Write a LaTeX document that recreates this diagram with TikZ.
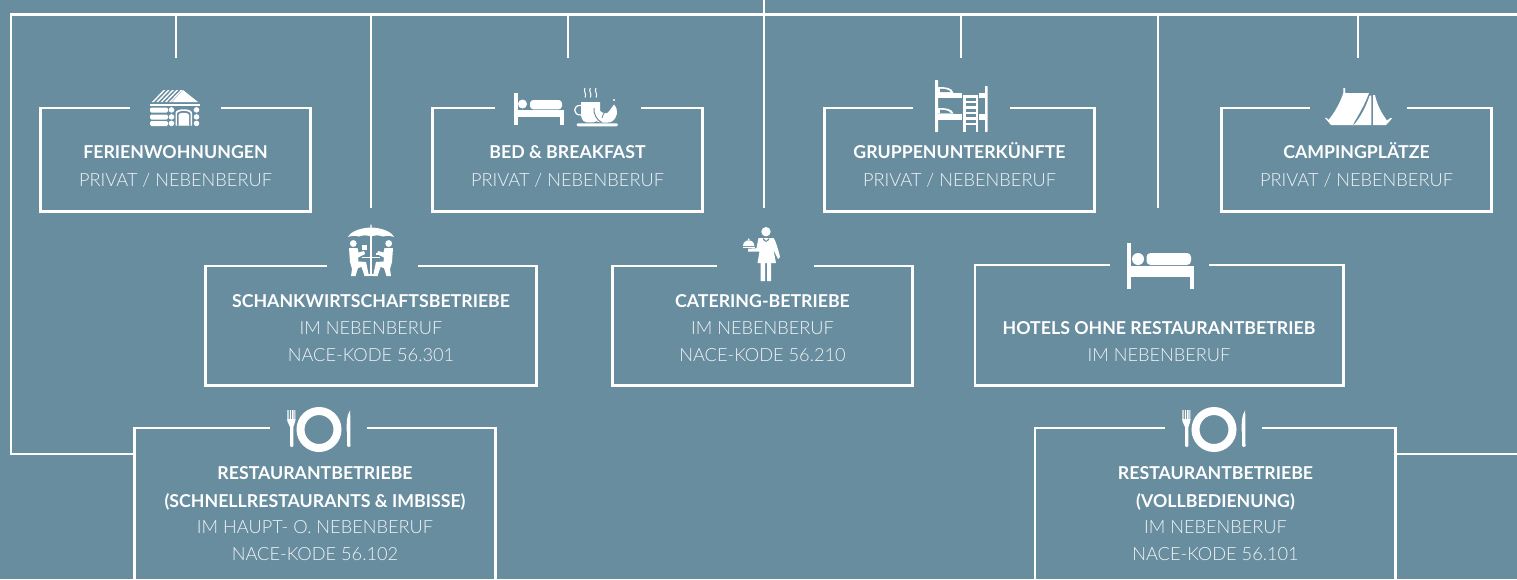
\documentclass[tikz,border=0pt]{standalone}
\usepackage{fontspec}
\setmainfont{Lato}
\newfontfamily\lightf{Lato Light}
\definecolor{bg}{HTML}{688D9F}
\definecolor{sub}{HTML}{F0F4F6}
\tikzset{
  wire/.style={draw=white,line width=2pt,line cap=butt},
  framed/.style={draw=white,line width=2pt,line join=miter},
  titletext/.style={anchor=base,text=white,inner sep=0pt,font=\fontsize{13.3}{14}\selectfont\bfseries},
  subtext/.style={anchor=base,text=sub,inner sep=0pt,font=\fontsize{13.65}{14}\selectfont\lightf},
  ink/.style={fill=white,draw=none},
  cut/.style={draw=bg,line width=0.6pt},
}
% name, x1, y1, x2, y2, gap left, gap right
\newcommand{\gapbox}[7]{%
  \draw[framed] (#6,#3) -- (#2,#3) -- (#2,#5) -- (#4,#5) -- (#4,#3) -- (#7,#3);
  \coordinate (#1) at ({(#2+#4)/2},#3);
}
\newcommand{\openbox}[6]{%
  \draw[framed] (#2,579) -- (#2,#3) -- (#5,#3);
  \draw[framed] (#6,#3) -- (#4,#3) -- (#4,579);
  \coordinate (#1) at ({(#2+#4)/2},#3);
}
\newcommand{\bedicon}{%
  \fill[ink] (0,0) rectangle (4,32);
  \fill[ink] (8.5,11) circle (4.5);
  \fill[ink,rounded corners=2.5pt] (16,7) rectangle (48,16.3);
  \fill[ink] (4,17) rectangle (49.5,24);
  \fill[ink] (46,24) rectangle (49.5,32);
}
\newcommand{\plateicon}{%
  \draw[draw=white,line width=6pt] (319,429.5) circle (18.5);
  \fill[ink] (287.3,410) rectangle (288.6,420) (289.9,410) rectangle (291.2,420) (292.2,410) rectangle (293.5,420) (294.4,410) rectangle (295.4,420);
  \fill[ink] (287.3,419) -- (295.4,419) -- (295.4,421) .. controls (295.4,424) and (293.4,424) .. (293.4,427) -- (293.4,446) .. controls (293.4,447.5) and (290,447.5) .. (290,446) -- (290,427) .. controls (290,424) and (287.3,424) .. (287.3,421) -- cycle;
  \fill[ink] (350.2,410) .. controls (346,416) and (346.7,425) .. (346.7,431) -- (347.2,433) -- (347.2,446) .. controls (347.2,447.5) and (350.5,447.5) .. (350.5,446) -- cycle;
}
\newcommand{\sitter}{%
  \fill[ink] (353.3,243.5) circle (3.4);
  \fill[ink] (349,248) -- (357.5,248) -- (358.5,252.5) -- (364,251) -- (365,254) -- (358,257.5) -- (358.5,261.5) -- (366,262) -- (369,276) -- (364.5,276) -- (361.5,267) -- (358,268) -- (355.5,276) -- (351,276) -- (352,269) -- (350,262) -- cycle;
}
\begin{document}
\begin{tikzpicture}[x=0.75pt,y=-0.75pt]
\useasboundingbox (0,0) rectangle (1517,579);
\fill[bg] (0,0) rectangle (1517,579);
% bus
\coordinate (root) at (764,0);
\coordinate (busL) at (11,14.5);
\coordinate (busM) at (764,14.5);
\coordinate (busR) at (1517,14.5);
\coordinate (cornerL) at (11,454);
\coordinate (endR) at (1517,454);
\foreach \n/\x/\yy in {t1/176/58,t2/371/208,t3/568/58,t4/764/208,t5/961/58,t6/1158/208,t7/1358/58}{
  \coordinate (\n a) at (\x,14.5);
  \coordinate (\n b) at (\x,\yy);
  \draw[wire] (\n a) -- (\n b);
}
\draw[wire] (root) -- (busM);
\gapbox{b1}{40.5}{108}{310.5}{211.5}{130}{221}
\gapbox{b2}{432.5}{108}{702.5}{211.5}{495}{641}
\gapbox{b3}{824.5}{108}{1094.5}{211.5}{913}{1010}
\gapbox{b4}{1221.5}{108}{1491.5}{211.5}{1310}{1407}
\gapbox{b5}{205.5}{266}{536.5}{385.5}{327}{418}
\gapbox{b6}{612.5}{266}{912.5}{385.5}{717}{814}
\gapbox{b7}{975}{265}{1343.5}{385.5}{1110}{1209}
\openbox{b8}{134.5}{428}{495.5}{270}{367}
\openbox{b9}{1035}{428}{1395.5}{1165}{1262}
\coordinate (b8w) at (134.5,454);
\coordinate (b9e) at (1395.5,454);
\draw[wire,line join=miter] (busR) -- (busL) -- (cornerL) -- (b8w);
\draw[wire] (b9e) -- (endR);
% texts
\node[titletext] (n1a) at (175.5,158) {FERIENWOHNUNGEN};
\node[subtext]   (n1b) at (175.5,186) {PRIVAT / NEBENBERUF};
\node[titletext] (n2a) at (567.5,158) {BED \& BREAKFAST};
\node[subtext]   (n2b) at (567.5,186) {PRIVAT / NEBENBERUF};
\node[titletext] (n3a) at (959.5,158) {GRUPPENUNTERKÜNFTE};
\node[subtext]   (n3b) at (959.5,186) {PRIVAT / NEBENBERUF};
\node[titletext] (n4a) at (1356.5,158) {CAMPINGPLÄTZE};
\node[subtext]   (n4b) at (1356.5,186) {PRIVAT / NEBENBERUF};
\node[titletext] (n5a) at (371,307.5) {SCHANKWIRTSCHAFTSBETRIEBE};
\node[subtext]   (n5b) at (371,334) {IM NEBENBERUF};
\node[subtext]   (n5c) at (371,361) {NACE-KODE 56.301};
\node[titletext] (n6a) at (762.5,307.5) {CATERING-BETRIEBE};
\node[subtext]   (n6b) at (762.5,334) {IM NEBENBERUF};
\node[subtext]   (n6c) at (762.5,361) {NACE-KODE 56.210};
\node[titletext] (n7a) at (1159,334.5) {HOTELS OHNE RESTAURANTBETRIEB};
\node[subtext]   (n7b) at (1159,361) {IM NEBENBERUF};
\node[titletext] (n8a) at (315,479.5) {RESTAURANTBETRIEBE};
\node[titletext] (n8b) at (315,507) {(SCHNELLRESTAURANTS \& IMBISSE)};
\node[subtext]   (n8c) at (315,533) {IM HAUPT- O. NEBENBERUF};
\node[subtext]   (n8d) at (315,560) {NACE-KODE 56.102};
\node[titletext] (n9a) at (1215.5,479.5) {RESTAURANTBETRIEBE};
\node[titletext] (n9b) at (1215.5,507) {(VOLLBEDIENUNG)};
\node[subtext]   (n9c) at (1215.5,533) {IM NEBENBERUF};
\node[subtext]   (n9d) at (1215.5,560) {NACE-KODE 56.101};
% cabin icon
\foreach \i in {0,1,2,3,4}{
  \fill[ink] ({152+4.3*\i},102) -- ({163.5+4.3*\i},90) -- ({165.4+4.3*\i},90) -- ({153.9+4.3*\i},102) -- cycle;
}
\fill[ink] (183,90) -- (198,102) -- (172,102) -- cycle;
\fill[ink] (150,104) rectangle (200,106);
\foreach \yy in {107.5,114.5,121}{
  \fill[ink,rounded corners=1pt] (150,\yy) rectangle (168,{\yy+5});
  \fill[ink] (171.5,{\yy+2.4}) circle (2.8);
  \fill[ink] (196.5,{\yy+2.4}) circle (2.8);
}
\fill[ink] (175.5,125.5) -- (175.5,113) .. controls (175.5,108) and (192,108) .. (192,113) -- (192,125.5) -- cycle;
\fill[bg] (177,125.5) -- (177,114) .. controls (177,110) and (190.5,110) .. (190.5,114) -- (190.5,125.5) -- cycle;
\fill[ink] (178.5,125.5) -- (178.5,115) .. controls (178.5,112) and (189,112) .. (189,115) -- (189,125.5) -- cycle;
% bed + coffee
\begin{scope}[shift={(514,93)}]\bedicon\end{scope}
\fill[ink] (581,102) -- (600,102) -- (600,113) .. controls (600,122) and (595,122.5) .. (590,122.5) .. controls (585,122.5) and (581,122) .. (581,113) -- cycle;
\draw[white,line width=0.9pt] (581,105.5) .. controls (572.5,104.5) and (572.5,115.5) .. (581,115);
\fill[ink,rounded corners=1pt] (576.5,123.4) rectangle (618,126.3);
\foreach \x in {585,590.3,596}{
  \draw[white,line width=0.75pt] (\x,88) .. controls (\x-2.2,91) and (\x+2.2,94) .. (\x,97.5);
}
\fill[ink] (595,107) .. controls (600,110) and (605,118) .. (610,110) .. controls (612,107) and (613,106) .. (614,104.5) .. controls (619,110) and (618,118) .. (611,122) .. controls (605,123.5) and (598,123) .. (595,120) -- cycle;
\draw[bg,line width=0.75pt] (594,108) .. controls (593,113) and (597,121) .. (602,122.5);
\draw[bg,line width=0.6pt] (602,118) .. controls (603,113) and (606,110) .. (610,109);
\fill[ink] (614,100) circle (1.1);
% bunk
\fill[ink,rounded corners=0.4pt] (935,80) rectangle (938,132);
\fill[ink,rounded corners=0.4pt] (985,86) rectangle (987.5,132);
\fill[ink] (938,93) rectangle (985,98.3);
\fill[ink] (938,113.5) rectangle (985,120);
\fill[ink] (938,87) .. controls (946,87) and (952,87.5) .. (953.5,93) -- (938,93) -- cycle;
\fill[ink] (938,108) .. controls (946,108) and (952,108.5) .. (953.5,113.5) -- (938,113.5) -- cycle;
\fill[bg] (940,88.7) .. controls (946,89) and (949,89.5) .. (950.5,92) -- (940,92) -- cycle;
\fill[bg] (940,109.7) .. controls (946,110) and (949,110.5) .. (950.5,113) -- (940,113) -- cycle;
\fill[bg] (962,93) rectangle (979,132);
\fill[ink] (963.3,95) rectangle (965.7,132);
\fill[ink] (975.5,95) rectangle (977.7,132);
\foreach \yy in {95,100.5,106,111.5,117,122.5}{ \fill[ink] (965.7,\yy) rectangle (975.5,{\yy+2.8}); }
% tent
\fill[ink] (1343.3,88) -- (1345,88) -- (1345.3,93) -- (1369,93) .. controls (1365,104) and (1358,116) .. (1352.5,125) -- (1331,125) -- (1325,118) -- (1326.5,117.8) -- (1328.5,120) .. controls (1335,112) and (1340,103) .. (1343.3,93) -- cycle;
\fill[ink] (1369.7,95.5) .. controls (1366,107) and (1360,118) .. (1353.8,125) -- (1371.3,125) -- (1371.3,95.5) -- cycle;
\fill[ink] (1350.5,118) -- (1352,118) -- (1354,122) -- (1353,126) -- cycle;
\fill[ink] (1373,95) -- (1375,95) .. controls (1377,105) and (1382,114) .. (1387,120.5) -- (1390.5,118) -- (1392,118.5) -- (1386,125) -- (1373,125) -- cycle;
% umbrella and people
\fill[ink] (348,237) .. controls (351,231) and (361,228) .. (370.3,227.5) -- (370.3,224.5) -- (371.7,224.5) -- (371.7,227.5) .. controls (381,228) and (391,231) .. (394,237) .. controls (390,235.5) and (387,235.5) .. (383,236.5) .. controls (379,235) and (375,235) .. (371,236.5) .. controls (367,235) and (363,235) .. (359,236.5) .. controls (355,235.5) and (352,235.5) .. (348,237) -- cycle;
\fill[ink] (370.2,236) rectangle (371.8,275);
\fill[ink] (367,274.3) rectangle (375,276);
\fill[ink] (362,256.5) rectangle (380,258);
\sitter
\fill[ink] (361.5,245) rectangle (367,250);
\begin{scope}[shift={(742,0)},xscale=-1]\sitter\end{scope}
\fill[ink] (376,253) rectangle (384,255);
% waiter
\fill[ink] (766,231.7) circle (4.7);
\fill[ink] (758.5,238) -- (773.5,238) .. controls (775.5,240) and (779,252) .. (780,257) -- (778,259) -- (773.5,250) -- (776,263) -- (757.5,263) -- (759.5,251.5) -- (748,251.5) -- (748,248.7) -- (756.5,248.2) -- cycle;
\fill[bg] (763,238) -- (766,241) -- (769,238) -- (769,240) -- (766,242) -- (763,240) -- cycle;
\fill[ink] (760.7,263) rectangle (765,281) (767,263) rectangle (771.2,281);
\fill[ink] (743,246) arc[start angle=180,end angle=360,radius=5.7] -- cycle;
\fill[ink] (742.5,246.7) rectangle (754.5,248);
\fill[ink] (748.7,239.3) circle (1);
% hotel bed
\begin{scope}[shift={(1126.5,243)}]
\fill[ink] (0,0) rectangle (4.2,46);
\fill[ink] (11.5,16) circle (6);
\fill[ink,rounded corners=3pt] (20,10) rectangle (64.5,22);
\fill[ink] (4,23) rectangle (67,34);
\fill[ink] (63,34) rectangle (67,46);
\end{scope}
% plates
\plateicon
\begin{scope}[shift={(895,0)}]\plateicon\end{scope}
\end{tikzpicture}
\end{document}
